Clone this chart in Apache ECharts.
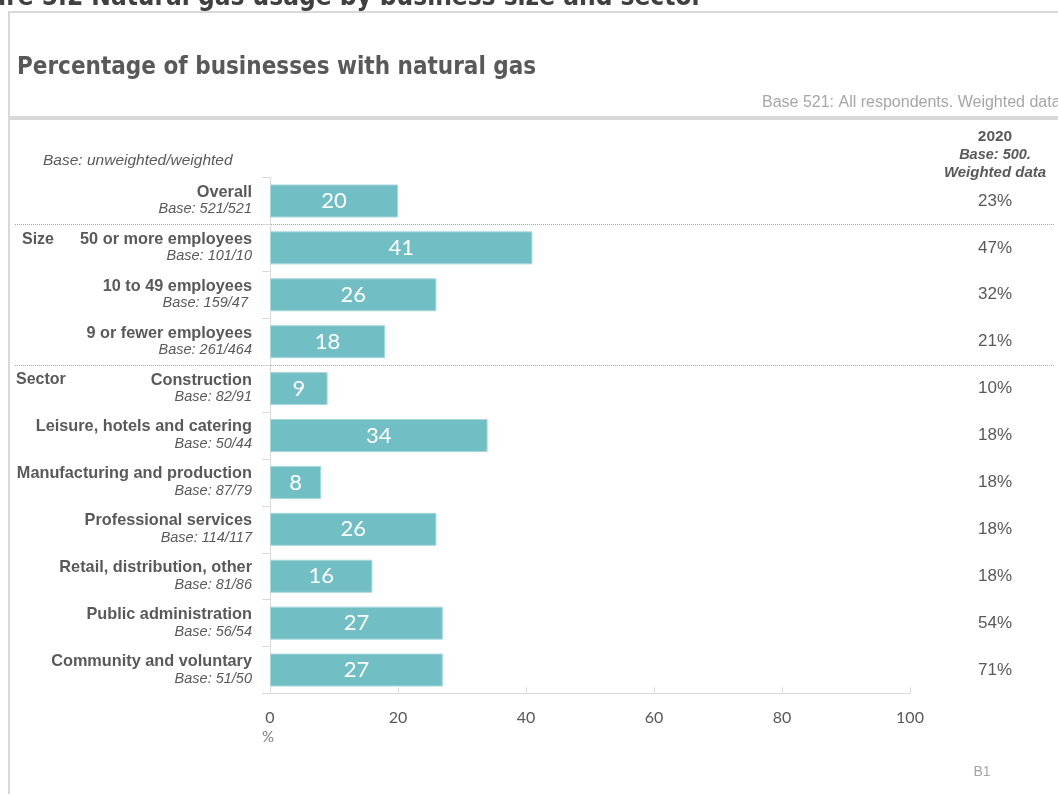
<!DOCTYPE html>
<html>
<head>
<meta charset="utf-8">
<script src="https://cdn.jsdelivr.net/npm/echarts@6/dist/echarts.min.js"></script>
<style>
  html, body { margin: 0; padding: 0; background: #ffffff; }
  #chart { width: 1058px; height: 794px; }
</style>
</head>
<body>
<div id="chart"></div>
<script>
// Row labels, unweighted/weighted bases and percentages
const categories = [
  'Overall',
  '50 or more employees',
  '10 to 49 employees',
  '9 or fewer employees',
  'Construction',
  'Leisure, hotels and catering',
  'Manufacturing and production',
  'Professional services',
  'Retail, distribution, other',
  'Public administration',
  'Community and voluntary'
];
const bases = [
  '521/521', '101/10', '159/47 ', '261/464',
  '82/91', '50/44', '87/79', '114/117', '81/86', '56/54', '51/50'
];
const values = [20, 41, 26, 18, 9, 34, 8, 26, 16, 27, 27];
const values2020 = ['23%', '47%', '32%', '21%', '10%', '18%', '18%', '18%', '18%', '54%', '71%'];
const xTicks = { min: 0, max: 100, interval: 20 };
// Group headings and the index of the row they start on
const groups = [
  { name: 'Size', row: 1, x: 22 },
  { name: 'Sector', row: 4, x: 16 }
];
// Rows after which a dotted rule is drawn
const separatorsAfter = [0, 3];

const GRID = { left: 270, right: 148, top: 177.5, height: 516 };
const rowH = GRID.height / categories.length;
const TXT = '#595959';
const LIGHT = '#d9d9d9';

const chart = echarts.init(document.getElementById('chart'));

const graphics = [
  // figure caption, partly above the page edge
  { type: 'text', x: 703, y: -2, style: {
      text: 'Figure 5.2 Natural gas usage by business size and sector',
      font: 'bold 26px "DejaVu Sans Condensed"', fill: '#404040', align: 'right', verticalAlign: 'middle' } },
  // panel frame
  { type: 'line', shape: { x1: 8, y1: 12, x2: 1058, y2: 12 }, style: { stroke: LIGHT, lineWidth: 2 } },
  { type: 'line', shape: { x1: 9, y1: 12, x2: 9, y2: 794 }, style: { stroke: LIGHT, lineWidth: 2 } },
  { type: 'text', x: 17, y: 68, style: {
      text: 'Percentage of businesses with natural gas',
      font: 'bold 24px "DejaVu Sans Condensed"', fill: TXT, verticalAlign: 'middle' } },
  { type: 'text', x: 762, y: 103, style: {
      text: 'Base 521: All respondents. Weighted data',
      font: '16px "Liberation Sans"', fill: '#a6a6a6', verticalAlign: 'middle' } },
  { type: 'line', shape: { x1: 10, y1: 118, x2: 1058, y2: 118 }, style: { stroke: LIGHT, lineWidth: 4 } },
  { type: 'text', x: 995, y: 137, style: {
      text: '2020', font: 'bold 15.5px "Liberation Sans"', fill: TXT, align: 'center', verticalAlign: 'middle' } },
  { type: 'text', x: 995, y: 155, style: {
      text: 'Base: 500.', font: 'italic bold 14.5px "Liberation Sans"', fill: TXT, align: 'center', verticalAlign: 'middle' } },
  { type: 'text', x: 995, y: 173, style: {
      text: 'Weighted data', font: 'italic bold 15px "Liberation Sans"', fill: TXT, align: 'center', verticalAlign: 'middle' } },
  { type: 'text', x: 43, y: 161, style: {
      text: 'Base: unweighted/weighted', font: 'italic 15.5px "Liberation Sans"', fill: TXT, verticalAlign: 'middle' } },
  { type: 'text', x: 982, y: 772, style: {
      text: 'B1', font: '14px "Liberation Sans"', fill: '#a6a6a6', align: 'center', verticalAlign: 'middle' } },
  { type: 'text', x: 268, y: 737, style: {
      text: '%', font: '15px "Lato"', fill: '#7f7f7f', align: 'center', verticalAlign: 'middle' } }
];

groups.forEach(g => {
  graphics.push({ type: 'text', x: g.x, y: GRID.top + rowH * (g.row + 0.5) - 8.5, style: {
    text: g.name, font: 'bold 16px "Liberation Sans"', fill: TXT, verticalAlign: 'middle' } });
});
separatorsAfter.forEach(r => {
  const y = Math.round(GRID.top + rowH * (r + 1)) + 0.5;
  graphics.push({ type: 'line', shape: { x1: 15, y1: y, x2: 1055, y2: y },
    style: { stroke: '#a6a6a6', lineWidth: 1, lineDash: [1, 1] } });
});

chart.setOption({
  animation: false,
  grid: { left: GRID.left, right: GRID.right, top: GRID.top, height: GRID.height, containLabel: false },
  xAxis: {
    type: 'value', min: xTicks.min, max: xTicks.max, interval: xTicks.interval,
    splitLine: { show: false },
    axisLine: { show: true, lineStyle: { color: LIGHT, width: 1 } },
    axisTick: { show: true, inside: true, length: 6, lineStyle: { color: LIGHT } },
    axisLabel: { color: TXT, fontSize: 16, fontFamily: 'Lato', margin: 16 }
  },
  yAxis: [
    {
      type: 'category', data: categories, inverse: true,
      axisLine: { show: true, lineStyle: { color: LIGHT } },
      axisTick: { show: true, length: 8, lineStyle: { color: LIGHT } },
      axisLabel: {
        margin: 18, align: 'right',
        formatter: (v, i) => '{n|' + v + '}\n{b|Base: ' + bases[i] + '}',
        rich: {
          n: { fontFamily: 'Liberation Sans', fontWeight: 'bold', fontSize: 16.3, color: TXT, lineHeight: 17, align: 'right' },
          b: { fontFamily: 'Liberation Sans', fontStyle: 'italic', fontSize: 14.5, color: TXT, lineHeight: 17, align: 'right' }
        }
      }
    },
    {
      type: 'category', data: values2020, inverse: true, position: 'right',
      axisLine: { show: false }, axisTick: { show: false },
      axisLabel: { margin: 85, align: 'center', fontFamily: 'Liberation Sans', fontSize: 17, color: TXT }
    }
  ],
  series: [{
    type: 'bar', data: values, barWidth: 33, yAxisIndex: 0,
    itemStyle: { color: '#72bec5', borderColor: '#a9d8dc', borderWidth: 1 },
    label: { show: true, position: 'inside', color: '#ffffff', fontFamily: 'Lato', fontSize: 22 }
  }],
  graphic: graphics
});
</script>
</body>
</html>
